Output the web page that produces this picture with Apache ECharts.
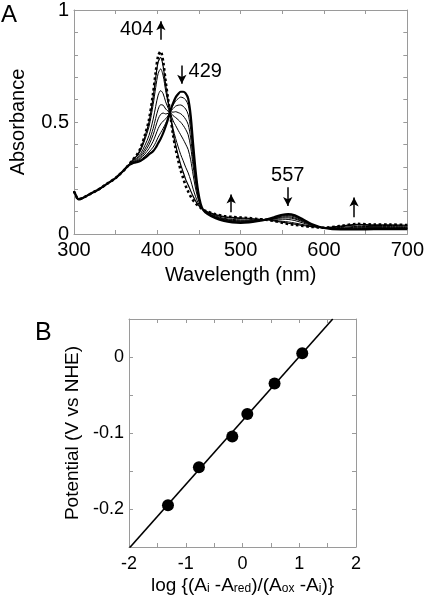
<!DOCTYPE html>
<html>
<head>
<meta charset="utf-8">
<script src="https://cdn.jsdelivr.net/npm/echarts@6/dist/echarts.min.js"></script>
<style>
html,body{margin:0;padding:0;background:#fff;}
#chart{width:427px;height:599px;}
</style>
</head>
<body>
<div id="chart"></div>
<script>
// ---------- Panel A: spectra ----------
const wavelengths = [300,302,305,310,320,330,340,350,360,365,370,375,380,385,390,395,398,401,404,407,410,413,416,419,422,425,428,431,434,437,440,443,446,449,452,455,460,470,480,490,500,510,520,530,540,550,557,565,575,585,600,620,640,660,680,700];

// reduced (thick, 429 nm)
const absReduced = [0.19,0.175,0.155,0.16,0.18,0.2,0.225,0.25,0.285,0.305,0.315,0.32,0.327,0.34,0.355,0.37,0.385,0.405,0.425,0.45,0.48,0.515,0.555,0.585,0.61,0.625,0.635,0.635,0.628,0.605,0.53,0.4,0.28,0.19,0.135,0.108,0.09,0.07,0.058,0.052,0.05,0.052,0.057,0.064,0.075,0.086,0.089,0.083,0.065,0.045,0.027,0.02,0.02,0.022,0.022,0.022];
const absStep1 = [0.19,0.175,0.155,0.16,0.18,0.2,0.225,0.25,0.285,0.305,0.316,0.322,0.331,0.347,0.366,0.388,0.408,0.432,0.452,0.472,0.494,0.521,0.553,0.575,0.594,0.604,0.611,0.608,0.599,0.576,0.505,0.383,0.27,0.186,0.134,0.108,0.091,0.071,0.06,0.054,0.052,0.053,0.058,0.064,0.074,0.083,0.086,0.08,0.063,0.044,0.027,0.021,0.022,0.023,0.023,0.023];
const absStep2 = [0.19,0.175,0.155,0.16,0.18,0.2,0.225,0.25,0.285,0.305,0.318,0.325,0.337,0.357,0.381,0.414,0.442,0.471,0.491,0.504,0.514,0.529,0.549,0.56,0.571,0.575,0.576,0.57,0.558,0.534,0.468,0.358,0.256,0.179,0.132,0.108,0.092,0.073,0.062,0.056,0.054,0.055,0.059,0.064,0.072,0.08,0.082,0.076,0.06,0.043,0.027,0.023,0.024,0.025,0.025,0.025];
const absStep3 = [0.19,0.175,0.155,0.16,0.18,0.2,0.225,0.25,0.285,0.305,0.319,0.328,0.343,0.368,0.398,0.443,0.479,0.514,0.534,0.54,0.536,0.539,0.545,0.544,0.546,0.542,0.537,0.527,0.512,0.489,0.429,0.33,0.24,0.172,0.13,0.108,0.093,0.075,0.064,0.059,0.057,0.057,0.06,0.064,0.07,0.076,0.077,0.071,0.057,0.041,0.027,0.024,0.027,0.028,0.028,0.027];
const absStep4 = [0.19,0.175,0.155,0.16,0.18,0.2,0.225,0.25,0.285,0.305,0.321,0.332,0.35,0.379,0.415,0.471,0.516,0.557,0.577,0.575,0.558,0.548,0.541,0.528,0.52,0.51,0.499,0.485,0.467,0.443,0.389,0.303,0.224,0.165,0.128,0.108,0.094,0.077,0.067,0.061,0.059,0.059,0.061,0.064,0.068,0.072,0.072,0.067,0.054,0.04,0.027,0.026,0.03,0.03,0.03,0.029];
const absStep5 = [0.19,0.175,0.155,0.16,0.18,0.2,0.225,0.25,0.285,0.305,0.323,0.337,0.359,0.395,0.44,0.513,0.569,0.62,0.64,0.626,0.59,0.562,0.536,0.505,0.484,0.463,0.443,0.423,0.401,0.377,0.331,0.263,0.201,0.155,0.125,0.108,0.096,0.08,0.07,0.065,0.063,0.062,0.063,0.064,0.066,0.066,0.065,0.06,0.049,0.038,0.027,0.029,0.034,0.033,0.033,0.032];
const absStep6 = [0.19,0.175,0.155,0.16,0.18,0.2,0.225,0.25,0.285,0.305,0.327,0.344,0.373,0.42,0.479,0.578,0.653,0.717,0.737,0.706,0.64,0.583,0.527,0.469,0.426,0.389,0.355,0.327,0.298,0.273,0.24,0.2,0.166,0.139,0.121,0.108,0.098,0.084,0.076,0.071,0.069,0.067,0.065,0.064,0.061,0.057,0.054,0.049,0.042,0.035,0.027,0.033,0.04,0.038,0.038,0.036];
const absStep7 = [0.19,0.175,0.155,0.16,0.18,0.2,0.225,0.25,0.285,0.305,0.329,0.348,0.381,0.433,0.499,0.612,0.697,0.768,0.788,0.748,0.666,0.594,0.522,0.45,0.396,0.351,0.31,0.277,0.244,0.219,0.193,0.168,0.147,0.13,0.118,0.108,0.099,0.087,0.078,0.074,0.072,0.07,0.066,0.064,0.059,0.053,0.048,0.044,0.038,0.033,0.028,0.035,0.043,0.041,0.041,0.039];
// oxidized (dotted, 404 nm)
const absOxidized = [0.19,0.175,0.155,0.16,0.18,0.2,0.225,0.25,0.285,0.305,0.33,0.35,0.385,0.44,0.51,0.63,0.72,0.795,0.815,0.77,0.68,0.6,0.52,0.44,0.38,0.33,0.285,0.25,0.215,0.19,0.168,0.15,0.137,0.126,0.117,0.108,0.1,0.088,0.08,0.076,0.074,0.071,0.067,0.064,0.058,0.05,0.045,0.041,0.036,0.032,0.028,0.036,0.045,0.042,0.042,0.04];

// annotations (arrows in data units)
const arrowWl   = [404.3, 429.4, 556.5, 488.6, 636.1];
const arrowFrom = [0.867, 0.752, 0.209, 0.097, 0.075];
const arrowTo   = [0.950, 0.671, 0.125, 0.176, 0.163];
const peakLabels   = ['404', '429', '557'];
const peakLabelWl  = [375.1, 457.5, 556.5];
const peakLabelAbs = [0.915, 0.724, 0.261];

// ---------- Panel B: Nernst plot ----------
const logRatio  = [-1.313, -0.768, -0.18, 0.085, 0.565, 1.053];
const potential = [-0.195, -0.145, -0.1045, -0.0749, -0.0348, 0.0049];
const fitX = [-1.99, 1.59];
const fitY = [-0.251, 0.05];

const FONT = 'Liberation Sans, Arial, Helvetica, sans-serif';
const FRAME = '#9a9a9a';

function pairs(xs, ys){ return xs.map((x,i)=>[x, ys[i]]); }

function frameAxis(extra){
  return Object.assign({
    type:'value',
    axisLine:{show:true, onZero:false, lineStyle:{color:FRAME, width:1}},
    axisTick:{show:true, inside:true, length:4, lineStyle:{color:FRAME, width:1}},
    splitLine:{show:false},
    axisLabel:{show:false}
  }, extra);
}

const labelStyleA = {color:'#000', fontSize:20, fontFamily:FONT};
const labelStyleB = {color:'#000', fontSize:18, fontFamily:FONT};
const nameStyleA = {color:'#000', fontSize:20, fontFamily:FONT};
const nameStyleB = {color:'#000', fontSize:19, fontFamily:FONT};

const spectra = [
  {d:absReduced, w:2.2, t:'solid'},
  {d:absStep1, w:1, t:'solid'},
  {d:absStep2, w:1, t:'solid'},
  {d:absStep3, w:1, t:'solid'},
  {d:absStep4, w:1, t:'solid'},
  {d:absStep5, w:1, t:'solid'},
  {d:absStep6, w:1, t:'solid'},
  {d:absStep7, w:1.2, t:'solid'},
  {d:absOxidized, w:2.6, t:'dotted'}
];

const series = spectra.map((s, idx) => ({
  type:'line', xAxisIndex:0, yAxisIndex:0,
  data: pairs(wavelengths, s.d),
  showSymbol:false, smooth:0.3, silent:true,
  lineStyle:{color:'#000', width:s.w, type:s.t},
  z: 2
}));

// annotation arrows + labels attached to a helper series
series.push({
  type:'line', xAxisIndex:0, yAxisIndex:0, data:[], silent:true,
  markLine:{
    silent:true, animation:false,
    symbol:['none','arrow'], symbolSize:[7,9],
    lineStyle:{color:'#000', width:1.5, type:'solid'},
    label:{show:false},
    data: arrowWl.map((w,i)=>[{coord:[w, arrowFrom[i]]},{coord:[w, arrowTo[i]]}])
  },
  markPoint:{
    silent:true, animation:false,
    symbol:'circle', symbolSize:1,
    itemStyle:{color:'rgba(0,0,0,0)'},
    label:{show:true, position:'inside', color:'#000', fontSize:20, fontFamily:FONT, formatter:p=>p.name},
    data: peakLabels.map((t,i)=>({name:t, coord:[peakLabelWl[i], peakLabelAbs[i]]}))
  }
});

// panel B
series.push({
  type:'line', xAxisIndex:2, yAxisIndex:2,
  data: pairs(fitX, fitY), showSymbol:false, silent:true,
  lineStyle:{color:'#000', width:1.6}, z:2
});
series.push({
  type:'scatter', xAxisIndex:2, yAxisIndex:2,
  data: pairs(logRatio, potential), symbol:'circle', symbolSize:12,
  itemStyle:{color:'#000', opacity:1}, silent:true, z:3
});

const option = {
  animation:false,
  backgroundColor:'#fff',
  grid:[
    {left:72, top:7, width:340, height:227},
    {left:129, top:319, width:227, height:228}
  ],
  xAxis:[
    frameAxis({gridIndex:0, position:'bottom', min:300, max:700, interval:50,
      axisLabel:Object.assign({show:true, margin:6, formatter:v=> (Math.round(v)%100===0 ? String(Math.round(v)) : '')}, labelStyleA),
      name:'Wavelength (nm)', nameLocation:'middle', nameGap:31, nameTextStyle:nameStyleA}),
    frameAxis({gridIndex:0, position:'top', min:300, max:700, interval:50}),
    frameAxis({gridIndex:1, position:'bottom', min:-2, max:2, interval:0.5,
      axisLabel:Object.assign({show:true, margin:8, formatter:v=> (Math.abs(v-Math.round(v))<1e-6 ? String(Math.round(v)) : '')}, labelStyleB),
      name:'log {(A{s|i} -A{s|red})/(A{s|ox} -A{s|i})}', nameLocation:'middle', nameGap:29,
      nameTextStyle:Object.assign({}, nameStyleB, {rich:{s:{fontSize:12, fontFamily:FONT, color:'#000', verticalAlign:'bottom'}}})}),
    frameAxis({gridIndex:1, position:'top', min:-2, max:2, interval:0.5})
  ],
  yAxis:[
    frameAxis({gridIndex:0, position:'left', min:0, max:1, interval:0.1,
      axisLabel:Object.assign({show:true, margin:5, formatter:v=>{
        const r = Math.round(v*10);
        if (Math.abs(v*10-r)>1e-6) return '';
        if (r===0) return '0'; if (r===5) return '0.5'; if (r===10) return '1'; return '';
      }}, labelStyleA),
      name:'Absorbance', nameLocation:'middle', nameGap:46, nameRotate:90, nameTextStyle:nameStyleA}),
    frameAxis({gridIndex:0, position:'right', min:0, max:1, interval:0.1}),
    frameAxis({gridIndex:1, position:'left', min:-0.25, max:0.05, interval:0.05,
      axisLabel:Object.assign({show:true, margin:5, formatter:v=>{
        const r = Math.round(v*100);
        if (Math.abs(v*100-r)>1e-6 || r%10!==0) return '';
        if (r===0) return '0';
        return (r/100).toString();
      }}, labelStyleB),
      name:'Potential (V vs NHE)', nameLocation:'middle', nameGap:43, nameRotate:90, nameTextStyle:nameStyleB}),
    frameAxis({gridIndex:1, position:'right', min:-0.25, max:0.05, interval:0.05})
  ],
  graphic:[
    {type:'text', left:1, top:3, style:{text:'A', fontSize:24, fontFamily:FONT, fill:'#000'}},
    {type:'text', left:35, top:321, style:{text:'B', fontSize:25, fontFamily:FONT, fill:'#000'}}
  ],
  series: series
};

const chart = echarts.init(document.getElementById('chart'), null, {renderer:'canvas'});
chart.setOption(option);
</script>
</body>
</html>
